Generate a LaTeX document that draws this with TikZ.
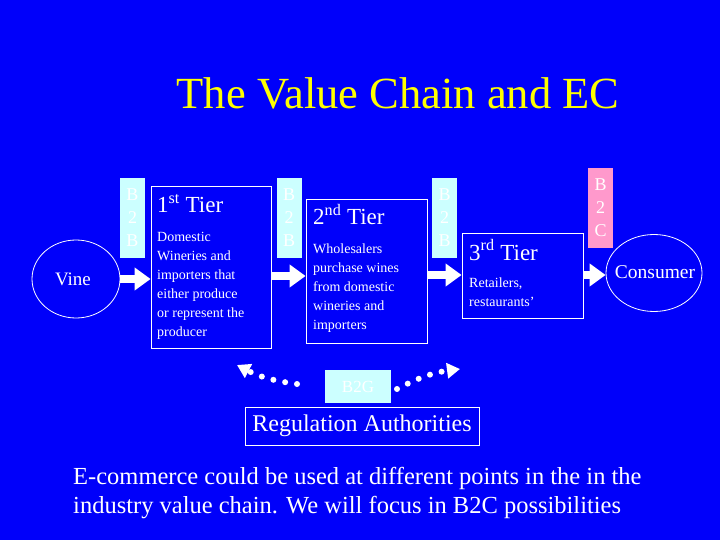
\documentclass[tikz,border=0pt]{standalone}
\usepackage{fontspec}
\setmainfont{Liberation Serif}
\usetikzlibrary{arrows.meta,shapes.geometric}
\definecolor{bg}{RGB}{0,0,250}
\definecolor{titleyellow}{RGB}{255,255,0}
\definecolor{lightcyan}{RGB}{204,255,255}
\definecolor{pinkbox}{RGB}{255,153,204}
\tikzset{
  px/.style={x=1pt,y=-1pt},
  tierbox/.style={draw=white, line width=0.8pt, inner sep=0pt},
  tagbox/.style={fill=lightcyan, inner sep=0pt, minimum width=25pt, minimum height=80pt},
  tagtext/.style={text=white, font=\fontsize{18}{23}\selectfont, align=center},
  oval/.style={ellipse, draw=white, line width=0.8pt, inner sep=0pt},
  heading/.style={text=white, anchor=base west, inner sep=0pt, font=\fontsize{23}{26}\selectfont},
  body/.style={text=white, anchor=north west, inner sep=0pt, align=left, font=\fontsize{14}{19}\selectfont},
  flow/.style={white, line width=8pt, -{Triangle[length=16pt,width=22pt]}},
  dotflow/.style={white, line width=6pt, line cap=round, dash pattern=on 0pt off 12pt, -{Triangle[length=13pt,width=15pt]}}
}
\begin{document}
\begin{tikzpicture}[px]
\fill[bg] (0,0) rectangle (720,540);
\useasboundingbox (0,0) rectangle (720,540);

% title
\node[text=titleyellow, font=\fontsize{44.5}{48}\selectfont, anchor=base] (title) at (398,109) {The Value Chain and EC};

% tag boxes
\node[tagbox] (tag1) at (132.5,218) {};
\node[tagtext] at (tag1) {B\\2\\B};
\node[tagbox] (tag2) at (289,218) {};
\node[tagtext] at (tag2) {B\\2\\B};
\node[tagbox] (tag3) at (444.5,218) {};
\node[tagtext] at (tag3) {B\\2\\B};
\node[tagbox, fill=pinkbox] (tag4) at (600.5,208) {};
\node[tagtext] at (tag4) {B\\2\\C};

% ellipses
\node[oval, minimum width=88pt, minimum height=78pt] (vine) at (76,279) {};
\node[text=white, font=\fontsize{19}{21}\selectfont] at (73,279) {Vine};
\node[oval, minimum width=96pt, minimum height=77pt] (cons) at (654,273) {};
\node[text=white, font=\fontsize{19.5}{21}\selectfont] at (655,272) {Consumer};

% tier boxes
\node[tierbox, minimum width=120pt, minimum height=162pt] (t1) at (211,267) {};
\node[heading] at (157,213) {1\textsuperscript{st} Tier};
\node[body] at (157,232) {Domestic\\Wineries and\\importers that\\either produce\\or represent the\\producer};

\node[tierbox, minimum width=121pt, minimum height=144pt] (t2) at (366.5,271) {};
\node[heading] at (313,225) {2\textsuperscript{nd} Tier};
\node[body] at (313,244) {Wholesalers\\purchase wines\\from domestic\\wineries and\\importers};

\node[tierbox, minimum width=121pt, minimum height=85pt] (t3) at (522.5,275.5) {};
\node[heading] at (469,260) {3\textsuperscript{rd} Tier};
\node[body] at (469,278) {Retailers,\\restaurants'};

% flow arrows
\draw[flow] (vine.east) -- (t1.west |- vine.east);
\draw[flow] (t1.east |- 0,276) -- (t2.west |- 0,276);
\draw[flow] (t2.east |- 0,275) -- (t3.west |- 0,275);
\draw[flow] (t3.east |- 0,275) -- (cons.west |- 0,275);

% B2G and regulation
\node[fill=lightcyan, minimum width=66pt, minimum height=33pt, inner sep=0pt] (b2g) at (358,386.5) {};
\node[text=white, font=\fontsize{17}{20}\selectfont] at (b2g) {B2G};
\node[tierbox, minimum width=234pt, minimum height=38pt] (reg) at (362,426) {};
\node[text=white, font=\fontsize{24}{26}\selectfont] at (reg) {Regulation Authorities};

\coordinate (la) at (297,384);
\coordinate (lb) at (237,365);
\coordinate (ra) at (397,389);
\coordinate (rb) at (460,369);
\draw[dotflow] (la) to[bend left=10] (lb);
\draw[dotflow] (ra) to[bend left=10] (rb);

% bottom text
\node[text=white, anchor=base west, inner sep=0pt, font=\fontsize{24.5}{29}\selectfont] (note) at (73,484) {E-commerce could be used at different points in the in the};
\node[text=white, anchor=base west, inner sep=0pt, font=\fontsize{24.5}{29}\selectfont] (note2) at (73,513) {industry value chain. We will focus in B2C possibilities};
\end{tikzpicture}
\end{document}
